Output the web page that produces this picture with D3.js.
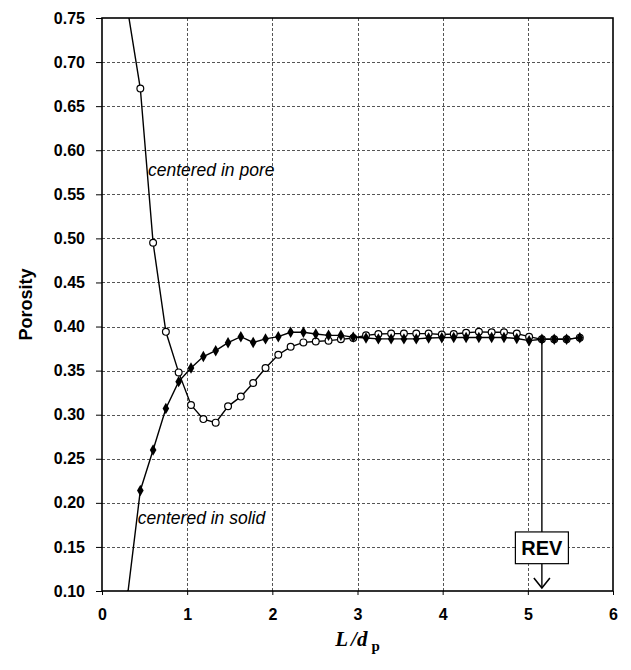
<!DOCTYPE html>
<html><head><meta charset="utf-8">
<script src="https://cdn.jsdelivr.net/npm/d3@7"></script>
<style>body{margin:0;background:#fff;} svg{display:block;}</style>
</head><body>
<svg id="chart" width="631" height="670"></svg>
<script>
// ---- data ----
const xVals = [0.30,0.45,0.60,0.75,0.90,1.045,1.19,1.335,1.48,1.63,1.775,1.92,2.07,2.215,2.365,2.51,2.66,2.805,2.95,3.10,3.245,3.395,3.545,3.69,3.835,3.99,4.13,4.275,4.425,4.575,4.72,4.87,5.015,5.165,5.31,5.455,5.61];
const porePore = [0.76,0.670,0.495,0.394,0.348,0.311,0.295,0.291,0.3095,0.3205,0.336,0.353,0.368,0.377,0.382,0.383,0.384,0.3855,0.387,0.390,0.3915,0.392,0.392,0.392,0.392,0.391,0.3915,0.393,0.394,0.3935,0.3935,0.392,0.3885,0.3855,0.3855,0.3855,0.3874];
const poreSolid = [0.095,0.214,0.260,0.307,0.3375,0.353,0.366,0.3726,0.3817,0.3885,0.382,0.386,0.3885,0.3935,0.3935,0.3915,0.390,0.390,0.388,0.387,0.386,0.386,0.386,0.386,0.387,0.3874,0.3876,0.3876,0.3876,0.3876,0.3876,0.3865,0.384,0.3855,0.3855,0.3855,0.3874];
const xTicks = [0,1,2,3,4,5,6];
const yTicks = [0.10,0.15,0.20,0.25,0.30,0.35,0.40,0.45,0.50,0.55,0.60,0.65,0.70,0.75];
const seriesLabels = ["centered in pore","centered in solid"];
const revLabel = "REV";
const revX = 5.165;

// ---- layout ----
const svg = d3.select("#chart");
const m = {left:102, right:613, top:18, bottom:591};
const x = d3.scaleLinear().domain([0,6]).range([m.left, m.right]);
const y = d3.scaleLinear().domain([0.10,0.75]).range([m.bottom, m.top]);

svg.append("defs").append("clipPath").attr("id","clip")
  .append("rect").attr("x",m.left).attr("y",m.top).attr("width",m.right-m.left).attr("height",m.bottom-m.top);

// gridlines
const grid = svg.append("g").attr("stroke","#555").attr("stroke-width",1).attr("stroke-dasharray","3,2");
grid.selectAll("line.h").data(yTicks.filter(d=>d>0.101 && d<0.749)).join("line")
  .attr("x1",m.left).attr("x2",m.right).attr("y1",d=>Math.round(y(d))+0.5).attr("y2",d=>Math.round(y(d))+0.5);
grid.selectAll("line.v").data(xTicks.filter(d=>d>0 && d<6)).join("line")
  .attr("y1",m.top).attr("y2",m.bottom).attr("x1",d=>Math.round(x(d))+0.5).attr("x2",d=>Math.round(x(d))+0.5);

// axes
const fmt = d3.format(".2f");
const yAxis = svg.append("g").attr("transform",`translate(${m.left},0)`)
  .call(d3.axisLeft(y).tickValues(yTicks).tickFormat(fmt).tickSize(6).tickPadding(11));
const xAxis = svg.append("g").attr("transform",`translate(0,${m.bottom})`)
  .call(d3.axisBottom(x).tickValues(xTicks).tickFormat(d3.format("d")).tickSize(4).tickPadding(14));
[yAxis,xAxis].forEach(a=>{
  a.select(".domain").remove();
  a.selectAll(".tick line").attr("stroke","#000").attr("stroke-width",1);
  a.selectAll(".tick text").attr("font-family","Liberation Sans, Arial, sans-serif")
    .attr("font-size",16).attr("font-weight","bold").attr("fill","#000");
});
// frame
svg.append("rect").attr("x",m.left).attr("y",m.top).attr("width",m.right-m.left).attr("height",m.bottom-m.top)
  .attr("fill","none").attr("stroke","#000").attr("stroke-width",1.6);

// series
const plot = svg.append("g").attr("clip-path","url(#clip)");
const line = d3.line().x((d,i)=>x(xVals[i])).y(d=>y(d));
plot.append("path").datum(porePore).attr("d",line).attr("fill","none").attr("stroke","#000").attr("stroke-width",1.4);
plot.append("path").datum(poreSolid).attr("d",line).attr("fill","none").attr("stroke","#000").attr("stroke-width",1.4);
plot.selectAll("circle.p").data(porePore).join("circle")
  .attr("cx",(d,i)=>x(xVals[i])).attr("cy",d=>y(d)).attr("r",3.4)
  .attr("fill","#fff").attr("stroke","#000").attr("stroke-width",1.2);
const dia = d3.symbol().type(d3.symbolDiamond).size(38);
plot.selectAll("path.s").data(poreSolid).join("path")
  .attr("d",dia).attr("transform",(d,i)=>`translate(${x(xVals[i])},${y(d)})`)
  .attr("fill","#000");

// labels
svg.append("text").attr("x",x(0.54)).attr("y",y(0.571)).text(seriesLabels[0])
  .attr("font-family","Liberation Sans, Arial, sans-serif").attr("font-size",17.5).attr("font-style","italic");
svg.append("text").attr("x",x(0.42)).attr("y",y(0.176)).text(seriesLabels[1])
  .attr("font-family","Liberation Sans, Arial, sans-serif").attr("font-size",17.5).attr("font-style","italic");

// REV annotation
const rx = x(revX);
const revIdx = xVals.indexOf(revX);
const boxTop = y(0.167), boxBot = y(0.131), tip = y(0.1035);
svg.append("line").attr("x1",rx).attr("x2",rx).attr("y1",y(poreSolid[revIdx])).attr("y2",boxTop).attr("stroke","#000").attr("stroke-width",1.4);
svg.append("line").attr("x1",rx).attr("x2",rx).attr("y1",boxBot).attr("y2",tip).attr("stroke","#000").attr("stroke-width",1.4);
svg.append("path").attr("d",`M${rx-8},${tip-10}L${rx},${tip}L${rx+8},${tip-10}`).attr("fill","none").attr("stroke","#000").attr("stroke-width",1.6);
svg.append("rect").attr("x",rx-26.5).attr("y",boxTop).attr("width",53).attr("height",boxBot-boxTop)
  .attr("fill","#fff").attr("stroke","#000").attr("stroke-width",1.2);
svg.append("text").attr("x",rx).attr("y",(boxTop+boxBot)/2+7).attr("text-anchor","middle").text(revLabel)
  .attr("font-family","Liberation Sans, Arial, sans-serif").attr("font-size",20).attr("font-weight","bold");

// axis titles
svg.append("text").attr("transform",`translate(32,${(m.top+m.bottom)/2}) rotate(-90)`).attr("text-anchor","middle")
  .text("Porosity").attr("font-family","Liberation Sans, Arial, sans-serif").attr("font-size",18).attr("font-weight","bold");
const xt = svg.append("text").attr("x",(m.left+m.right)/2).attr("y",646).attr("text-anchor","middle")
  .attr("font-family","Liberation Serif, Times New Roman, serif").attr("font-weight","bold");
xt.append("tspan").attr("font-style","italic").attr("font-size",21).text("L");
xt.append("tspan").attr("font-style","italic").attr("font-size",21).attr("dx",3).text("/");
xt.append("tspan").attr("font-style","italic").attr("font-size",21).text("d");
xt.append("tspan").attr("font-size",15).attr("dx",4).attr("dy",5).text("p");
</script>
</body></html>
